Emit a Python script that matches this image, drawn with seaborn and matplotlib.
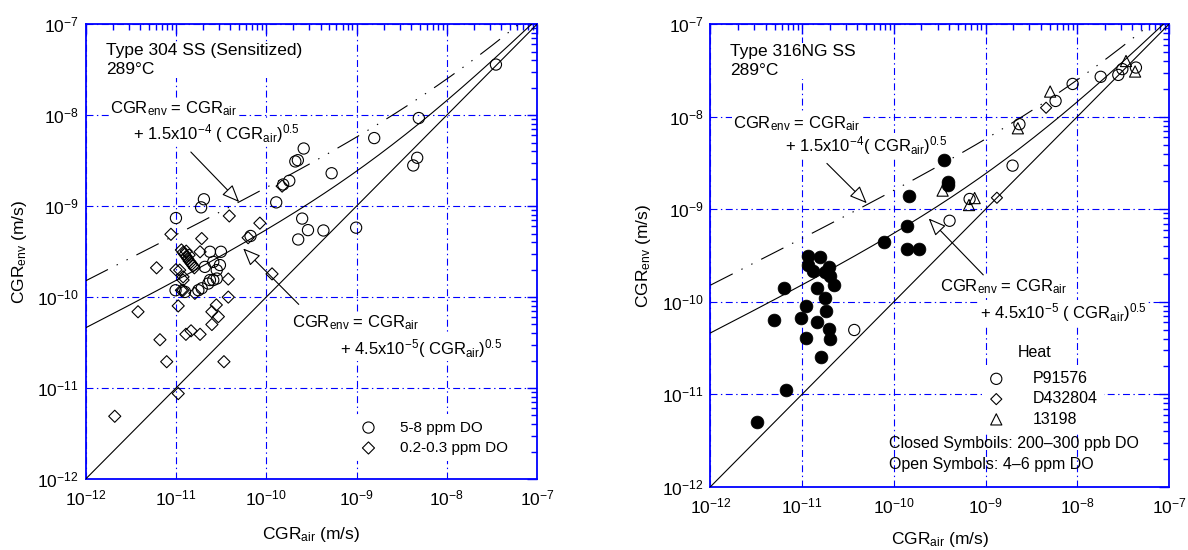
import numpy as np
import pandas as pd
import matplotlib
matplotlib.use("Agg")
import matplotlib.pyplot as plt
import seaborn as sns
from matplotlib.ticker import FixedLocator, NullFormatter

# ---- data (m/s) ----
# Type 304 SS (sensitized), 289C, 5-8 ppm DO
ss304_hi_air = [3.5e-8, 4.9e-9, 4.7e-9, 4.25e-9, 1.57e-9, 9.9e-10, 5.3e-10, 2.6e-10,
                2.24e-10, 2.1e-10, 1.8e-10, 1.54e-10, 1.29e-10, 2.5e-10, 2.9e-10, 2.26e-10,
                4.3e-10, 6.7e-11, 2.04e-11, 1.9e-11, 1.0e-11, 2.38e-11, 3.15e-11, 2.09e-11,
                2.59e-11, 2.83e-11, 3.07e-11, 2.38e-11, 2.59e-11, 2.83e-11, 2.28e-11, 1.77e-11,
                1.93e-11, 9.9e-12, 1.26e-11]
ss304_hi_env = [3.6e-8, 9.3e-9, 3.4e-9, 2.8e-9, 5.6e-9, 5.8e-10, 2.3e-9, 4.3e-9,
                3.2e-9, 3.1e-9, 1.9e-9, 1.73e-9, 1.1e-9, 7.3e-10, 5.45e-10, 4.3e-10,
                5.4e-10, 4.7e-10, 1.19e-9, 9.7e-10, 7.4e-10, 3.15e-10, 3.15e-10, 2.15e-10,
                2.44e-10, 1.98e-10, 2.25e-10, 1.54e-10, 1.54e-10, 1.6e-10, 1.41e-10, 1.19e-10,
                1.25e-10, 1.19e-10, 1.14e-10]

# Type 304 SS (sensitized), 289C, 0.2-0.3 ppm DO
ss304_lo_air = [1.5e-10, 8.5e-11, 6.3e-11, 3.9e-11, 8.8e-12, 1.93e-11, 6.1e-12, 1.16e-10,
                1.15e-11, 1.2e-11, 1.25e-11, 1.3e-11, 1.35e-11, 1.4e-11, 1.45e-11, 1.5e-11,
                1.55e-11, 1.6e-11, 1.3e-11, 1.4e-11, 1.85e-11, 1.0e-11, 1.2e-11, 1.1e-11,
                1.2e-11, 3.8e-11, 1.2e-11, 1.62e-11, 1.15e-11, 3.8e-11, 1.06e-11, 3.8e-12,
                2.8e-11, 2.5e-11, 2.95e-11, 2.5e-11, 6.65e-12, 1.29e-11, 1.47e-11, 1.85e-11,
                7.9e-12, 3.4e-11, 1.06e-11, 2.1e-12]
ss304_lo_env = [1.66e-9, 6.5e-10, 4.5e-10, 7.8e-10, 4.9e-10, 4.4e-10, 2.1e-10, 1.8e-10,
                3.3e-10, 3.1e-10, 2.95e-10, 2.8e-10, 2.65e-10, 2.5e-10, 2.4e-10, 2.3e-10,
                2.2e-10, 2.1e-10, 3.2e-10, 2.9e-10, 3.15e-10, 2.0e-10, 1.67e-10, 1.98e-10,
                1.54e-10, 1.58e-10, 1.19e-10, 1.1e-10, 1.19e-10, 1.0e-10, 8.0e-11, 6.9e-11,
                8.2e-11, 6.9e-11, 6.1e-11, 5.0e-11, 3.4e-11, 3.9e-11, 4.26e-11, 3.9e-11,
                1.95e-11, 1.95e-11, 8.7e-12, 4.9e-12]

# Type 316NG SS, 289C, open symbols (4-6 ppm DO) by heat
p91576_air = [4.36e-8, 3.1e-8, 2.8e-8, 1.8e-8, 8.9e-9, 5.8e-9, 2.34e-9, 1.97e-9, 6.7e-10, 4.05e-10, 3.7e-11]
p91576_env = [3.4e-8, 3.27e-8, 2.83e-8, 2.7e-8, 2.26e-8, 1.48e-8, 8.3e-9, 2.96e-9, 1.29e-9, 7.5e-10, 4.95e-11]
d432804_air = [4.57e-9, 1.33e-9]
d432804_env = [1.25e-8, 1.33e-9]
h13198_air = [3.4e-8, 4.27e-8, 5.06e-9, 2.25e-9, 3.4e-10, 7.6e-10, 6.6e-10]
h13198_env = [4.0e-8, 3.08e-8, 1.87e-8, 7.5e-9, 1.59e-9, 1.32e-9, 1.11e-9]

# Type 316NG SS, closed symbols (200-300 ppb DO)
ng_closed_air = [3.5e-10, 3.85e-10, 3.9e-10, 1.48e-10, 1.39e-10, 7.9e-11, 1.39e-10, 1.9e-10,
                 1.15e-11, 1.58e-11, 1.15e-11, 1.33e-11, 1.95e-11, 1.79e-11, 2.03e-11, 2.2e-11,
                 6.4e-12, 1.45e-11, 1.76e-11, 1.11e-11, 1.84e-11, 4.98e-12, 9.7e-12, 1.45e-11,
                 1.95e-11, 1.11e-11, 2.03e-11, 1.6e-11, 6.7e-12, 3.2e-12]
ng_closed_env = [3.4e-9, 1.96e-9, 1.83e-9, 1.40e-9, 6.65e-10, 4.47e-10, 3.7e-10, 3.7e-10,
                 3.13e-10, 3.03e-10, 2.5e-10, 2.17e-10, 2.4e-10, 2.1e-10, 1.9e-10, 1.52e-10,
                 1.4e-10, 1.4e-10, 1.09e-10, 9.0e-11, 8.0e-11, 6.4e-11, 6.7e-11, 6.1e-11,
                 5.1e-11, 4.1e-11, 4.0e-11, 2.5e-11, 1.11e-11, 5.0e-12]

# model curves: CGR_env = CGR_air + A * CGR_air^0.5
coef_hi_do = 1.5e-4
coef_lo_do = 4.5e-5

sns.set_theme(style="white")
plt.rcParams["font.family"] = ["Liberation Sans", "DejaVu Sans"]
plt.rcParams["mathtext.fontset"] = "custom"
plt.rcParams["mathtext.rm"] = "Liberation Sans"
plt.rcParams["mathtext.it"] = "Liberation Sans:italic"
plt.rcParams["mathtext.default"] = "regular"
plt.rcParams["lines.scale_dashes"] = False
plt.rcParams["text.color"] = "black"
plt.rcParams["axes.labelcolor"] = "black"

fig = plt.figure(figsize=(11.88, 5.5), dpi=100)
ax1 = fig.add_axes([0.0721, 0.129, 0.380, 0.827])
ax2 = fig.add_axes([0.598, 0.115, 0.386, 0.841])

box = dict(facecolor="white", edgecolor="none", pad=1.0)
arrow = dict(arrowstyle="-|>,head_length=0.6,head_width=0.25", fc="white", ec="black",
             lw=0.8, mutation_scale=18, shrinkA=0, shrinkB=0)

decades = [10.0 ** k for k in range(-12, -6)]
minors = [m * 10.0 ** k for k in range(-12, -7) for m in range(2, 10)]


def setup(ax):
    ax.set_xscale("log")
    ax.set_yscale("log")
    ax.set_xlim(1e-12, 1e-7)
    ax.set_ylim(1e-12, 1e-7)
    ax.grid(which="major", color="blue", linestyle=(0, (5, 2.5, 1, 2.5)), linewidth=0.8)
    ax.set_axisbelow(True)
    for sp in ax.spines.values():
        sp.set_color("blue")
        sp.set_linewidth(1.3)
    for axis in (ax.xaxis, ax.yaxis):
        axis.set_major_locator(FixedLocator(decades))
        axis.set_minor_locator(FixedLocator(minors))
        axis.set_minor_formatter(NullFormatter())
    ax.tick_params(which="both", direction="in", top=True, right=True, color="blue",
                   labelcolor="black", labelsize=12.5)
    ax.tick_params(axis="x", which="major", pad=7)
    ax.tick_params(axis="y", which="major", pad=5)
    ax.tick_params(which="major", length=7, width=1)
    ax.tick_params(which="minor", length=4, width=1)


def model_lines(ax):
    x = np.logspace(-12, -7, 300)
    lines = pd.DataFrame({"air": x, "one": x,
                          "lo": x + coef_lo_do * np.sqrt(x),
                          "hi": x + coef_hi_do * np.sqrt(x)})
    sns.lineplot(data=lines, x="air", y="one", ax=ax, color="black", lw=0.8, zorder=3)
    sns.lineplot(data=lines, x="air", y="lo", ax=ax, color="black", lw=0.8, zorder=3)
    sns.lineplot(data=lines, x="air", y="hi", ax=ax, color="black", lw=0.8, zorder=3,
                 linestyle=(0, (18, 7, 1, 7, 1, 7)))


# ---- left panel ----
setup(ax1)
model_lines(ax1)
df_hi = pd.DataFrame({"air": ss304_hi_air, "env": ss304_hi_env})
df_lo = pd.DataFrame({"air": ss304_lo_air, "env": ss304_lo_env})
sns.scatterplot(data=df_hi, x="air", y="env", ax=ax1, marker="o", s=65, facecolor="none",
                edgecolor="black", linewidth=0.8, label="5-8 ppm DO", zorder=4)
sns.scatterplot(data=df_lo, x="air", y="env", ax=ax1, marker="D", s=38, facecolor="none",
                edgecolor="black", linewidth=0.8, label="0.2-0.3 ppm DO", zorder=4)
ax1.set_xlabel(r"CGR$_{air}$ (m/s)", fontsize=12.5, labelpad=12)
ax1.set_ylabel(r"CGR$_{env}$ (m/s)", fontsize=12.5, labelpad=6)
ax1.legend(loc="upper left", bbox_to_anchor=(0.596, 0.142), borderaxespad=0, borderpad=0.4,
           frameon=True, facecolor="white", edgecolor="none", framealpha=1, fontsize=11,
           handlelength=1, handletextpad=1.55, labelspacing=0.42)

ax1.text(0.045, 0.958, "Type 304 SS (Sensitized)\n289°C", transform=ax1.transAxes,
         fontsize=12.5, va="top", ha="left", linespacing=1.3, bbox=box, zorder=3)
ax1.text(0.054, 0.804, r"CGR$_{env}$ = CGR$_{air}$", transform=ax1.transAxes,
         fontsize=12, va="baseline", bbox=box, zorder=3)
ax1.text(0.104, 0.747, r"+ 1.5x10$^{-4}$ ( CGR$_{air}$)$^{0.5}$", transform=ax1.transAxes,
         fontsize=12, va="baseline", bbox=box, zorder=3)
ax1.annotate("", xy=(0.340, 0.609), xytext=(0.233, 0.719), xycoords="axes fraction",
             arrowprops=arrow, zorder=5)
ax1.text(0.456, 0.333, r"CGR$_{env}$ = CGR$_{air}$", transform=ax1.transAxes,
         fontsize=12, va="baseline", bbox=box, zorder=3)
ax1.text(0.563, 0.275, r"+ 4.5x10$^{-5}$( CGR$_{air}$)$^{0.5}$", transform=ax1.transAxes,
         fontsize=12, va="baseline", bbox=box, zorder=3)
ax1.annotate("", xy=(0.349, 0.507), xytext=(0.472, 0.384), xycoords="axes fraction",
             arrowprops=arrow, zorder=5)

# ---- right panel ----
setup(ax2)
model_lines(ax2)
df_p = pd.DataFrame({"air": p91576_air, "env": p91576_env})
df_d = pd.DataFrame({"air": d432804_air, "env": d432804_env})
df_t = pd.DataFrame({"air": h13198_air, "env": h13198_env})
df_c = pd.DataFrame({"air": ng_closed_air, "env": ng_closed_env})
sns.scatterplot(data=df_p, x="air", y="env", ax=ax2, marker="o", s=65, facecolor="none",
                edgecolor="black", linewidth=0.8, label="P91576", zorder=4)
sns.scatterplot(data=df_d, x="air", y="env", ax=ax2, marker="D", s=32, facecolor="none",
                edgecolor="black", linewidth=0.8, label="D432804", zorder=4)
sns.scatterplot(data=df_t, x="air", y="env", ax=ax2, marker="^", s=65, facecolor="none",
                edgecolor="black", linewidth=0.8, label="13198", zorder=4)
sns.scatterplot(data=df_c, x="air", y="env", ax=ax2, marker="o", s=85, color="black",
                edgecolor="black", linewidth=0.5, zorder=4)
ax2.set_xlabel(r"CGR$_{air}$ (m/s)", fontsize=12.5, labelpad=10)
ax2.set_ylabel(r"CGR$_{env}$ (m/s)", fontsize=12.5, labelpad=6)
ax2.legend(loc="upper left", bbox_to_anchor=(0.592, 0.264), borderaxespad=0,
           borderpad=0.4, frameon=True, facecolor="white", edgecolor="none",
           framealpha=1, fontsize=11.5, handlelength=1, handletextpad=1.8,
           labelspacing=0.33)

ax2.text(0.0436, 0.957, "Type 316NG SS\n289°C", transform=ax2.transAxes,
         fontsize=12.5, va="top", ha="left", linespacing=1.3, bbox=box, zorder=3)
ax2.text(0.049, 0.775, r"CGR$_{env}$ = CGR$_{air}$", transform=ax2.transAxes,
         fontsize=12, va="baseline", bbox=box, zorder=3)
ax2.text(0.163, 0.7245, r"+ 1.5x10$^{-4}$( CGR$_{air}$)$^{0.5}$", transform=ax2.transAxes,
         fontsize=12, va="baseline", bbox=box, zorder=3)
ax2.annotate("", xy=(0.341, 0.613), xytext=(0.254, 0.699), xycoords="axes fraction",
             arrowprops=arrow, zorder=5)
ax2.text(0.501, 0.422, r"CGR$_{env}$ = CGR$_{air}$", transform=ax2.transAxes,
         fontsize=12, va="baseline", bbox=box, zorder=3)
ax2.text(0.588, 0.364, r"+ 4.5x10$^{-5}$ ( CGR$_{air}$)$^{0.5}$", transform=ax2.transAxes,
         fontsize=12, va="baseline", bbox=box, zorder=3)
ax2.annotate("", xy=(0.476, 0.580), xytext=(0.595, 0.458), xycoords="axes fraction",
             arrowprops=arrow, zorder=5)
ax2.text(0.671, 0.281, "Heat", transform=ax2.transAxes, fontsize=11.5, va="baseline",
         bbox=box, zorder=6)
ax2.text(0.390, 0.083, "Closed Symboils: 200–300 ppb DO", transform=ax2.transAxes,
         fontsize=11.5, va="baseline", zorder=6)
ax2.text(0.390, 0.0376, "Open Symbols: 4–6 ppm DO", transform=ax2.transAxes,
         fontsize=11.5, va="baseline", zorder=6)

fig.savefig("out.png", dpi=100)
